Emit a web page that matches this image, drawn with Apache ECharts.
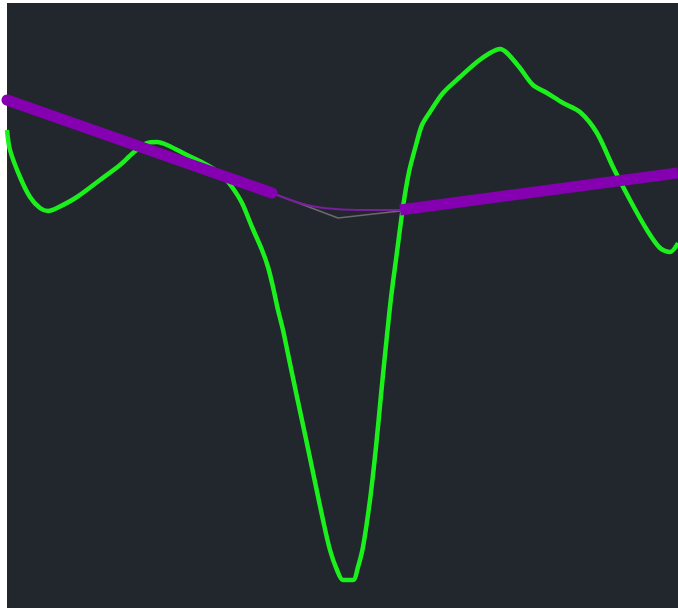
<!DOCTYPE html>
<html><head><meta charset="utf-8">
<script src="https://cdn.jsdelivr.net/npm/echarts@6/dist/echarts.min.js"></script>
<style>html,body{margin:0;padding:0;background:#fff}#c{width:678px;height:608px}</style>
</head><body><div id="c"></div>
<script>
// Green curve
const greenX = [0,3,13,23,33,41,50,70,93,113,126,140,150,160,180,200,215,225,235,245,255,261,266,271,276,281,290,299,308,316,323,330,336,346,351,356,363,369,374,379,384,390,396,402,409,415,423,436,453,470,483,493,500,513,526,540,556,573,590,606,623,640,653,663,671];
const greenY = [478,458,431,411,400,397,400,411,428,443,455,465,466,463,453,443,433,421,405,381,358,341,321,298,278,254,211,169,126,88,58,38,28,28,41,61,108,161,213,263,310,356,401,436,463,483,496,515,531,546,555,559,555,540,523,515,505,496,475,441,408,378,360,356,365];
// Thick purple segments
const purpleLeftX = [0,265];
const purpleLeftY = [508,415];
const purpleRightX = [393,671];
const purpleRightY = [398,435];
// Thin connector lines
const thinPurpleX = [265,300,328,360,393];
const thinPurpleY = [415,403,399,398,398];
const greyX = [265,331,393];
const greyY = [415,390,397];

const zip = (xs, ys) => xs.map((x, i) => [x, ys[i]]);
const chart = echarts.init(document.getElementById('c'), null, {renderer: 'canvas'});
chart.setOption({
  backgroundColor: '#ffffff',
  animation: false,
  grid: {left: 7, right: 0, top: 3, bottom: 0, show: true, backgroundColor: '#22272e', borderWidth: 0},
  xAxis: {type: 'value', min: 0, max: 671, show: false},
  yAxis: {type: 'value', min: 0, max: 605, show: false},
  series: [
    {type: 'line', data: zip(greyX, greyY), symbol: 'none', lineStyle: {color: '#6e6870', width: 1.5}},
    {type: 'line', data: zip(thinPurpleX, thinPurpleY), symbol: 'none', smooth: 0.4, lineStyle: {color: '#7a1f9c', width: 2}},
    {type: 'line', data: zip(greenX, greenY), symbol: 'none', smooth: 0.3, lineStyle: {color: '#1cf01c', width: 4.5, join: 'round'}},
    {type: 'line', data: zip(purpleLeftX, purpleLeftY), symbol: 'none', lineStyle: {color: '#8500b0', width: 11, cap: 'round'}},
    {type: 'line', data: zip(purpleRightX, purpleRightY), symbol: 'none', lineStyle: {color: '#8500b0', width: 11, cap: 'butt'}}
  ]
});
</script></body></html>
